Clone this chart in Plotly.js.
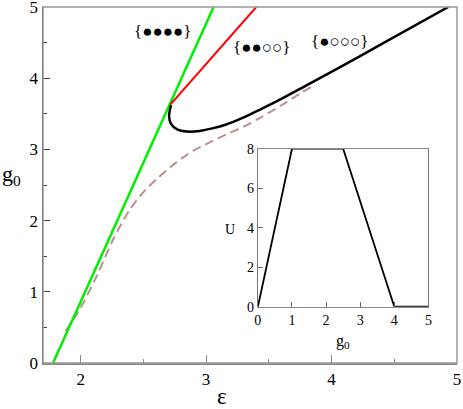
<!DOCTYPE html>
<html><head><meta charset="utf-8">
<script src="https://cdn.plot.ly/plotly-3.0.1.min.js"></script>
<style>body{margin:0;background:#fff}#c{width:463px;height:409px}</style>
</head><body><div id="c"></div>
<script>
// Main chart data (epsilon vs g0)
const greenEps = [1.78, 3.06];
const greenG0 = [0.0, 5.0];
const redEps = [2.715, 3.40];
const redG0 = [3.63, 5.0];
const blackEps = [2.72, 2.705, 2.72, 2.77, 2.85, 2.95, 3.05, 3.16, 3.30, 3.43, 3.60, 3.80, 4.01, 4.38, 4.93];
const blackG0  = [3.62, 3.47, 3.36, 3.28, 3.25, 3.26, 3.295, 3.35, 3.45, 3.56, 3.71, 3.90, 4.10, 4.46, 5.00];
const dashEps = [1.88, 1.99, 2.125, 2.258, 2.39, 2.50, 2.616, 2.75, 2.895, 3.03, 3.161, 3.30, 3.427, 3.60, 3.745, 3.86];
const dashG0  = [0.45, 0.745, 1.21, 1.73, 2.15, 2.40, 2.60, 2.80, 2.98, 3.10, 3.21, 3.32, 3.44, 3.62, 3.78, 3.90];
// Inset data (g0 vs U)
const insetG0 = [0, 1, 2.5, 4, 5];
const insetU = [0, 8, 8, 0, 0];
// Labels
const stateLabels = ['{\u25CF\u25CF\u25CF\u25CF}', '{\u25CF\u25CF\u25CB\u25CB}', '{\u25CF\u25CB\u25CB\u25CB}'];
const stateEps = [2.654, 3.44, 4.064];
const stateG0 = [4.655, 4.43, 4.515];

const serif = 'Times New Roman, Liberation Serif, serif';
const traces = [
  {x: dashEps, y: dashG0, mode: 'lines', line: {color: '#bc8f8f', width: 2, dash: '9px,5px', shape: 'spline', smoothing: 0.8}, xaxis: 'x', yaxis: 'y'},
  {x: greenEps, y: greenG0, mode: 'lines', line: {color: '#00ee00', width: 2.5}},
  {x: redEps, y: redG0, mode: 'lines', line: {color: '#ff0000', width: 2}},
  {x: blackEps, y: blackG0, mode: 'lines', line: {color: '#000', width: 2.5, shape: 'spline', smoothing: 0.8}},
  {x: insetG0, y: insetU, mode: 'lines', line: {color: '#000', width: 1.8}, xaxis: 'x2', yaxis: 'y2'}
];
const annotations = stateLabels.map((t, i) => ({
  x: stateEps[i], y: stateG0[i], xref: 'x', yref: 'y', text: t, showarrow: false,
  xanchor: 'center', yanchor: 'middle',
  font: {family: serif, size: 17, color: '#000'}
}));
const px = v => (v - 43.3) / 414.2;
const py = v => (363 - v) / 356;
const lab = (x, y, text, size) => ({xref: 'paper', yref: 'paper', x: px(x), y: py(y), xanchor: 'center', yanchor: 'middle',
  text: text, showarrow: false, font: {family: serif, size: size, color: '#000'}});
annotations.push(
  lab(12, 175, 'g<sub>0</sub>', 22),
  lab(222, 397, '\u03B5', 23),
  lab(230.5, 229, 'U', 14),
  lab(343, 341, 'g<sub>0</sub>', 16)
);
const layout = {
  width: 463, height: 409,
  margin: {l: 43.3, r: 5.5, t: 7, b: 46},
  paper_bgcolor: '#fff', plot_bgcolor: '#fff',
  showlegend: false,
  font: {family: serif, size: 16, color: '#000'},
  xaxis: {range: [1.7, 5], tickvals: [2, 3, 4, 5], ticks: 'inside', ticklen: 8, tickcolor: '#888', tickwidth: 1,
          minor: {tickvals: [2.5, 3.5, 4.5], ticks: 'inside', ticklen: 4, tickcolor: '#888'},
          showline: true, linecolor: '#888', linewidth: 1.5, showgrid: false, zeroline: false,
          ticklabeloverflow: 'allow', tickfont: {family: serif, size: 17}},
  yaxis: {range: [0, 5], tickvals: [0, 1, 2, 3, 4, 5], ticks: 'inside', ticklen: 7, tickcolor: '#444', tickwidth: 1,
          minor: {tickvals: [0.5, 1.5, 2.5, 3.5, 4.5], ticks: 'inside', ticklen: 4, tickcolor: '#444'},
          showline: true, linecolor: '#333', linewidth: 1.5, showgrid: false, zeroline: false,
          ticklabeloverflow: 'allow', tickfont: {family: serif, size: 17}},
  xaxis2: {domain: [0.519, 0.931], anchor: 'y2', range: [0, 5], tickvals: [0, 1, 2, 3, 4, 5], ticks: 'inside', ticklen: 5,
           tickcolor: '#666', showline: true, mirror: true, linecolor: '#888', linewidth: 1, showgrid: false, zeroline: false,
           tickfont: {family: serif, size: 14}},
  yaxis2: {domain: [0.158, 0.602], anchor: 'x2', range: [0, 8], tickvals: [0, 2, 4, 6, 8], ticks: 'inside', ticklen: 5,
           tickcolor: '#666', showline: true, mirror: true, linecolor: '#777', linewidth: 1, showgrid: false, zeroline: false,
           tickfont: {family: serif, size: 14}},
  shapes: [
    {type: 'rect', xref: 'paper', yref: 'paper', x0: 0, x1: 1, y0: 0, y1: 1, line: {color: '#999', width: 1.5}, layer: 'above'}
  ],
  annotations: annotations
};
Plotly.newPlot('c', traces, layout, {staticPlot: true});
</script></body></html>
